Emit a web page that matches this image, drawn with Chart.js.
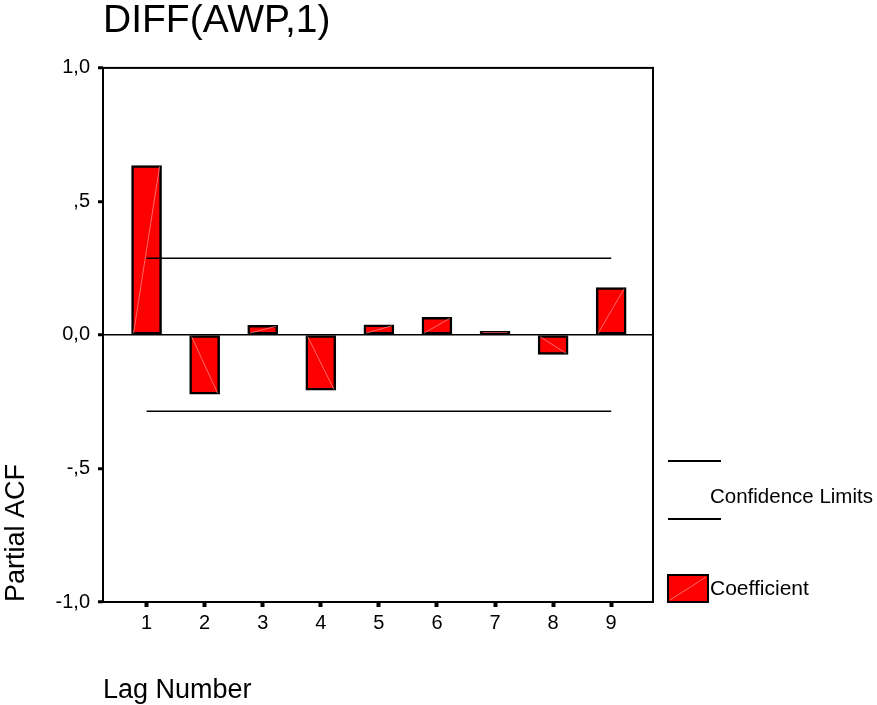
<!DOCTYPE html>
<html>
<head>
<meta charset="utf-8">
<script src="https://cdn.jsdelivr.net/npm/chart.js@4/dist/chart.umd.min.js"></script>
<style>
  html, body { margin: 0; padding: 0; background: #fff; }
</style>
</head>
<body>
<canvas id="chart" width="877" height="705"></canvas>
<script>
const lags = [1, 2, 3, 4, 5, 6, 7, 8, 9]
const partialAcf = [0.634, -0.222, 0.036, -0.207, 0.038, 0.066, 0.014, -0.073, 0.177]
const upperLimit = [0.287, 0.287, 0.287, 0.287, 0.287, 0.287, 0.287, 0.287, 0.287]
const lowerLimit = [-0.286, -0.286, -0.286, -0.286, -0.286, -0.286, -0.286, -0.286, -0.286]
const yTickValues = [-1, -0.5, 0, 0.5, 1]
const yTickLabels = ['-1,0', '-,5', '0,0', ',5', '1,0']
const legendLabels = ['Confidence Limits', 'Coefficient']

const FONT = '"Liberation Sans", Arial, sans-serif'

// SPSS style frame, legend and the faint diagonal on every bar
const spssExtras = {
  id: 'spssExtras',
  afterDatasetsDraw (chart) {
    const { ctx } = chart
    const bars = chart.getDatasetMeta(2).data
    ctx.save()
    ctx.strokeStyle = 'rgba(255, 150, 150, 0.7)'
    ctx.lineWidth = 1
    bars.forEach((bar) => {
      const { x, y, base, width } = bar.getProps(['x', 'y', 'base', 'width'], true)
      if (Math.abs(base - y) < 8) return
      ctx.beginPath()
      if (y < base) {
        ctx.moveTo(x - width / 2 + 2, base - 1)
        ctx.lineTo(x + width / 2 - 2, y + 1)
      } else {
        ctx.moveTo(x - width / 2 + 2, base + 1)
        ctx.lineTo(x + width / 2 - 2, y - 1)
      }
      ctx.stroke()
    })
    ctx.restore()
  },
  afterDraw (chart) {
    const { ctx, chartArea } = chart
    ctx.save()
    ctx.strokeStyle = '#000'
    ctx.lineWidth = 2
    ctx.strokeRect(chartArea.left, chartArea.top, chartArea.right - chartArea.left, chartArea.bottom - chartArea.top)

    const lx = chartArea.right + 15
    const b = chartArea.bottom
    ctx.beginPath()
    ctx.moveTo(lx, b - 141)
    ctx.lineTo(lx + 53, b - 141)
    ctx.moveTo(lx, b - 83)
    ctx.lineTo(lx + 53, b - 83)
    ctx.stroke()

    ctx.fillStyle = '#ff0000'
    ctx.fillRect(lx, b - 27, 40, 27)
    ctx.strokeRect(lx, b - 27, 40, 27)
    ctx.strokeStyle = 'rgba(255, 150, 150, 0.7)'
    ctx.lineWidth = 1
    ctx.beginPath()
    ctx.moveTo(lx + 2, b - 2)
    ctx.lineTo(lx + 38, b - 25)
    ctx.stroke()

    ctx.fillStyle = '#000'
    ctx.textAlign = 'left'
    ctx.textBaseline = 'middle'
    ctx.font = '20.5px ' + FONT
    ctx.fillText(legendLabels[0], lx + 42, b - 105)
    ctx.font = '21px ' + FONT
    ctx.fillText(legendLabels[1], lx + 42, b - 13)
    ctx.restore()
  }
}

new Chart(document.getElementById('chart'), {
  type: 'bar',
  data: {
    datasets: [
      {
        type: 'line',
        data: lags.map((x, i) => ({ x, y: upperLimit[i] })),
        borderColor: '#000',
        borderWidth: 1.5,
        pointRadius: 0,
        order: 0
      },
      {
        type: 'line',
        data: lags.map((x, i) => ({ x, y: lowerLimit[i] })),
        borderColor: '#000',
        borderWidth: 1.5,
        pointRadius: 0,
        order: 0
      },
      {
        type: 'bar',
        data: lags.map((x, i) => ({ x, y: partialAcf[i] })),
        backgroundColor: '#ff0000',
        borderColor: '#000',
        borderWidth: 2.5,
        borderSkipped: false,
        barThickness: 30,
        order: 1
      }
    ]
  },
  options: {
    responsive: false,
    animation: false,
    layout: { padding: { top: 0, left: 0, right: 224, bottom: 0 } },
    plugins: {
      legend: { display: false },
      tooltip: { enabled: false },
      title: {
        display: true,
        text: 'DIFF(AWP,1)',
        align: 'start',
        fullSize: false,
        color: '#000',
        font: { family: FONT, size: 39, weight: 'normal', lineHeight: 1.1 },
        padding: { top: 0, bottom: 25 }
      }
    },
    scales: {
      x: {
        type: 'linear',
        min: 0.25,
        max: 9.72,
        offset: false,
        afterBuildTicks: (axis) => { axis.ticks = lags.map((v) => ({ value: v })) },
        afterFit: (scale) => { scale.height = 103 },
        border: { display: false },
        grid: { offset: false, drawOnChartArea: false, tickLength: 5, tickWidth: 4, tickColor: '#000' },
        ticks: { color: '#000', font: { family: FONT, size: 20 }, padding: 4, maxRotation: 0 },
        title: {
          display: true,
          text: 'Lag Number',
          align: 'start',
          color: '#000',
          font: { family: FONT, size: 27 },
          padding: { top: 0, bottom: -2 }
        }
      },
      y: {
        min: -1,
        max: 1,
        afterBuildTicks: (axis) => { axis.ticks = yTickValues.map((v) => ({ value: v })) },
        afterFit: (scale) => { scale.width = 103 },
        border: { display: false },
        grid: {
          color: (c) => (c.tick && c.tick.value === 0 ? '#000' : 'rgba(0,0,0,0)'),
          lineWidth: 1.5,
          tickLength: 5,
          tickWidth: 3,
          tickColor: '#000'
        },
        ticks: {
          color: '#000',
          font: { family: FONT, size: 20 },
          padding: 8,
          callback: (value) => yTickLabels[yTickValues.indexOf(value)]
        },
        title: {
          display: true,
          text: 'Partial ACF',
          align: 'start',
          color: '#000',
          font: { family: FONT, size: 27 },
          padding: { top: 0, bottom: 0 }
        }
      }
    }
  },
  plugins: [spssExtras]
})
</script>
</body>
</html>
